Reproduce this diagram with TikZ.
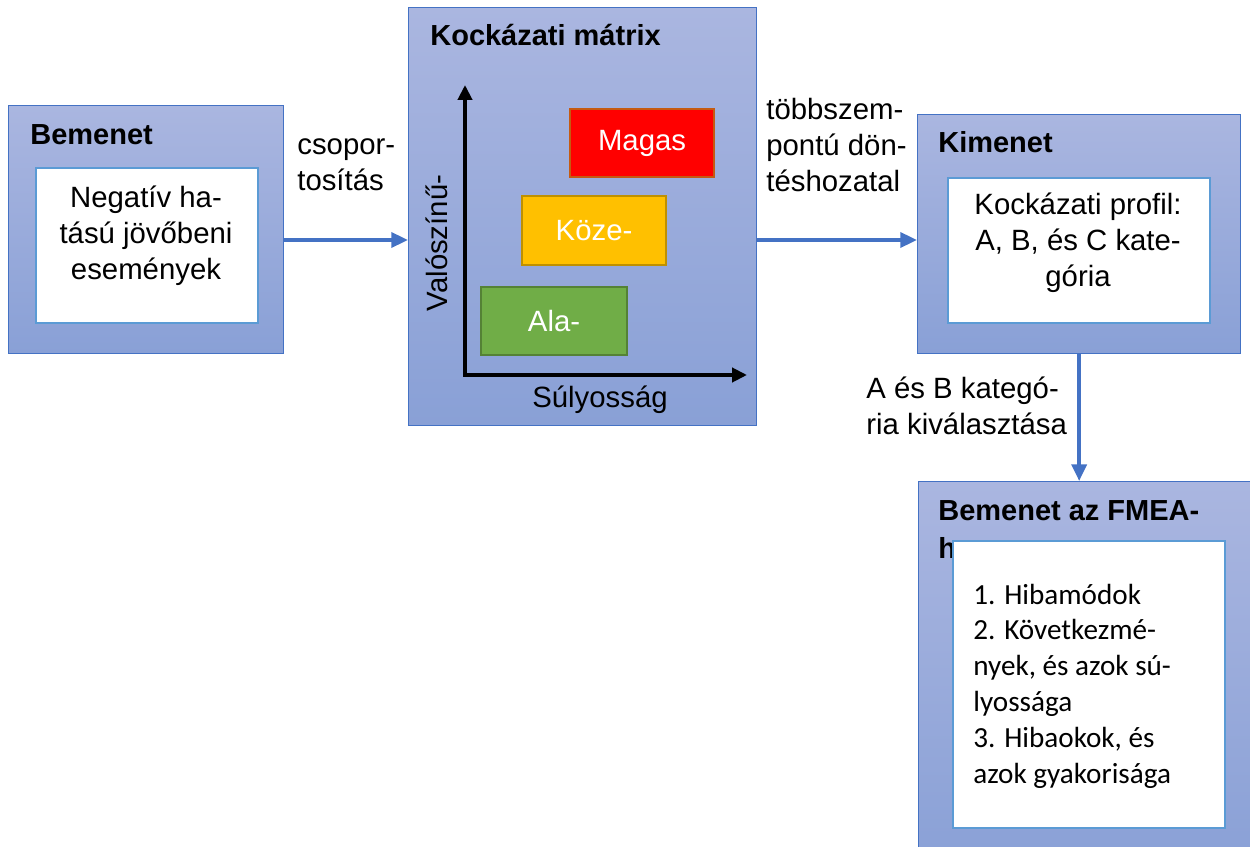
\documentclass[tikz,border=0pt]{standalone}
\usepackage{fontspec}
\setmainfont{Liberation Sans}
\newfontfamily\calibri{Carlito}
\usetikzlibrary{arrows.meta,positioning,calc}

\definecolor{paneltop}{RGB}{170,182,224}
\definecolor{panelbot}{RGB}{137,160,214}
\definecolor{panelline}{RGB}{68,114,196}
\definecolor{cardline}{RGB}{91,155,213}
\definecolor{flowblue}{RGB}{68,114,196}
\definecolor{highred}{RGB}{255,0,0}
\definecolor{highline}{RGB}{197,90,17}
\definecolor{midyellow}{RGB}{255,192,0}
\definecolor{midline}{RGB}{191,144,0}
\definecolor{lowgreen}{RGB}{112,173,71}
\definecolor{lowline}{RGB}{84,130,53}

\tikzset{
	panel/.style={draw=panelline, line width=0.8pt, top color=paneltop, bottom color=panelbot, anchor=north west, inner sep=0pt},
	card/.style={draw=cardline, line width=1.4pt, fill=white, anchor=north west, inner sep=0pt},
	level/.style={anchor=north west, line width=1.2pt, text=white, inner sep=0pt, font=\fontsize{16.7}{20.5}\selectfont},
	txt/.style={font=\fontsize{16.7}{20.5}\selectfont, inner sep=0pt},
	title/.style={font=\fontsize{16.5}{21.5}\selectfont\bfseries, inner sep=0pt, anchor=west, align=left},
	flow/.style={draw=flowblue, line width=2.1pt, -{Triangle[length=9.5pt,width=8.5pt]}},
	axis/.style={line width=2.1pt, {Triangle[length=8.5pt,width=8pt]}-{Triangle[length=8.5pt,width=8pt]}}
}

\begin{document}
\begin{tikzpicture}[x=0.02cm,y=-0.02cm]
	\useasboundingbox (0,0) rectangle (1250,847);
	\clip (0,0) rectangle (1250,847);

	\node[panel, minimum width=5.5cm, minimum height=4.96cm]	(bemenet)	at (8,105)		{};
	\node[title]	(bemenettitle)	at (30,135)	{Bemenet};
	\node[card, minimum width=4.44cm, minimum height=3.1cm]		(negcard)	at (35,167)		{};
	\node[txt, align=center]	(negtext)	at (146,236)	{Negatív ha-\\tású jövőbeni\\események};

	\node[panel, minimum width=6.96cm, minimum height=8.36cm]	(matrix)	at (408,7)		{};
	\node[title]	(matrixtitle)	at (430,35)	{Kockázati mátrix};
	\node[level, fill=highred, draw=highline, minimum width=2.88cm, minimum height=1.36cm]		(magas)	at (569,108)	{Magas};
	\node[level, fill=midyellow, draw=midline, minimum width=2.88cm, minimum height=1.38cm]	(koze)	at (521,195)	{Köze-};
	\node[level, fill=lowgreen, draw=lowline, minimum width=2.92cm, minimum height=1.36cm]		(ala)	at (480,286)	{Ala-};
	\coordinate	(origin)	at (465,375);
	\coordinate	(ytip)		at (465,85);
	\coordinate	(xtip)		at (747,375);
	\draw[axis]	(ytip) |- (xtip);
	\node[txt, rotate=90]	(ylabel)	at (437,243)	{Valószínű-};
	\node[txt]				(xlabel)	at (600,400)	{Súlyosság};

	\node[panel, minimum width=6.46cm, minimum height=4.78cm]	(kimenet)	at (917,114)	{};
	\node[title]	(kimenettitle)	at (938,142)	{Kimenet};
	\node[card, minimum width=5.24cm, minimum height=2.9cm]		(profilcard)	at (947,177)	{};
	\node[txt, align=center]	(profiltext)	at (1078,243)	{Kockázati profil:\\A, B, és C kate-\\gória};

	\node[panel, minimum width=6.8cm, minimum height=7.8cm]		(fmea)		at (918,481)	{};
	\node[title]	(fmeatitle)	at (938,530)	{Bemenet az FMEA-\\hoz};
	\node[card, minimum width=5.44cm, minimum height=5.74cm]	(fmeacard)	at (952,540)	{};
	\node[txt, anchor=west, align=left, font=\calibri\fontsize{16.6}{20.4}\selectfont]	(fmeatext)	at (973,686)
		{1. Hibamódok\\2. Következmé-\\nyek, és azok sú-\\lyossága\\3. Hibaokok, és\\azok gyakorisága};

	\coordinate	(row)	at (0,240);
	\draw[flow]	(bemenet.east |- row) -- (matrix.west |- row);
	\draw[flow]	(matrix.east |- row) -- (kimenet.west |- row);
	\draw[flow]	(kimenet.south) -- (kimenet.south |- fmea.north);

	\node[txt, anchor=west, align=left]	(grouping)	at (297,165)	{csopor-\\tosítás};
	\node[txt, anchor=west, align=left]	(decision)	at (766,145)	{többszem-\\pontú dön-\\téshozatal};
	\node[txt, anchor=west, align=left]	(selection)	at (866,406)	{A és B kategó-\\ria kiválasztása};
\end{tikzpicture}
\end{document}
